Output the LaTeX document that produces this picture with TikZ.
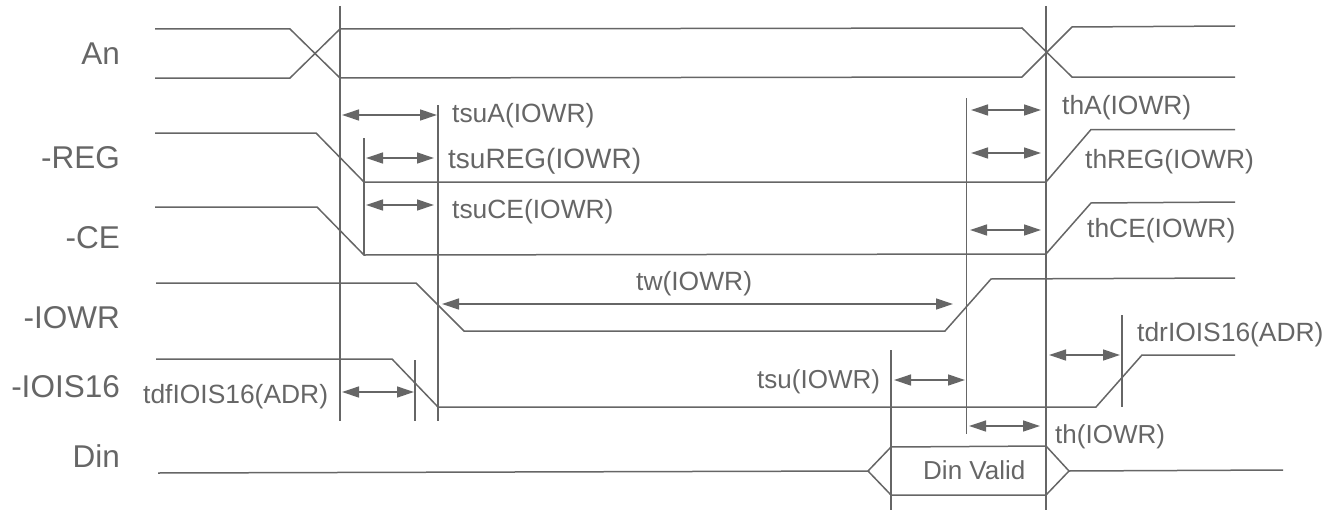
\documentclass[tikz,border=0pt]{standalone}
\usepackage{fontspec}
\setmainfont{Liberation Sans}
\usetikzlibrary{arrows.meta}
\definecolor{ink}{gray}{0.40}
\definecolor{txt}{gray}{0.40}
\tikzset{
  wave/.style={draw=ink,line width=1.5pt,line join=miter},
  guide/.style={draw=ink,line width=1.3pt},
  span/.style={draw=ink,line width=1.3pt,{Triangle[length=17pt,width=11pt,color=ink]}-{Triangle[length=17pt,width=11pt,color=ink]}},
  lbl/.style={text=txt,inner sep=0pt,anchor=base west,font=\fontsize{26.4}{30}\selectfont},
  lblbig/.style={lbl,font=\fontsize{28}{30}\selectfont},
  lblsmall/.style={lbl,font=\fontsize{26}{30}\selectfont},
  sig/.style={text=txt,inner sep=0pt,anchor=base east,font=\fontsize{31.5}{34}\selectfont}
}
\begin{document}
\begin{tikzpicture}[x=1pt,y=-1pt]
\useasboundingbox (0,0) rectangle (1338,511);
% guides
\draw[guide] (340,6) -- (340,421);
\draw[guide] (438,105) -- (438,421);
\draw[guide] (364,138) -- (364,255);
\draw[guide] (415,360) -- (415,421);
\draw[guide] (1046,6) -- (1046,510);
\draw[guide] (966.5,98) -- (966.5,434);
\draw[guide] (891,350) -- (891,510);
\draw[guide] (1122,315) -- (1122,407);
% waves
\draw[wave] (155,29) -- (290,29) -- (340,78) -- (1022,77) -- (1072,27) -- (1235,26);
\draw[wave] (155,78) -- (290,78) -- (340,29) -- (1022,28) -- (1072,77) -- (1235,77);
\draw[wave] (155,133) -- (316,133) -- (364,182) -- (1046,182) -- (1091,129.5) -- (1235,129.5);
\draw[wave] (155,207) -- (317,207) -- (364,255) -- (1046,254) -- (1091,203) -- (1235,202);
\draw[wave] (156,283) -- (416,283) -- (464,331) -- (945,331) -- (991,279) -- (1235,278);
\draw[wave] (156,359) -- (392,359) -- (438,407) -- (1096,407) -- (1142,355) -- (1235,355);
\draw[wave] (158,473) -- (868,471) -- (891,447) -- (1046,446) -- (1069,471) -- (1046,495) -- (891,495) -- (868,471);
\draw[wave] (1069,471) -- (1283,470);
% spans
\draw[span] (342,115) -- (437,115);
\draw[span] (366,158) -- (434,158);
\draw[span] (366,205) -- (434,205);
\draw[span] (971,110) -- (1041,110);
\draw[span] (971,153) -- (1041,153);
\draw[span] (970,230) -- (1041,230);
\draw[span] (442,304) -- (953,304);
\draw[span] (894,380) -- (965,380);
\draw[span] (969,426) -- (1040,426);
\draw[span] (1049,355) -- (1120,355);
\draw[span] (342,392) -- (414,392);
% signal labels
\node[sig] (an) at (120,64) {An};
\node[sig] (reg) at (120,168) {-REG};
\node[sig] (ce) at (120,248) {-CE};
\node[sig] (iowr) at (120,328) {-IOWR};
\node[sig] (iois) at (120,397) {-IOIS16};
\node[sig] (din) at (120,467) {Din};
% timing labels
\node[lbl] (tsua) at (452,122) {tsuA(IOWR)};
\node[lblbig] (tsureg) at (448,168) {tsuREG(IOWR)};
\node[lbl] (tsuce) at (452,218) {tsuCE(IOWR)};
\node[lbl] (tha) at (1062,114) {thA(IOWR)};
\node[lbl] (threg) at (1085,168) {thREG(IOWR)};
\node[lbl] (thce) at (1087,237) {thCE(IOWR)};
\node[lbl] (tw) at (636,290) {tw(IOWR)};
\node[lblsmall] (tsu) at (757,388) {tsu(IOWR)};
\node[lbl] (tdr) at (1137,341) {tdrIOIS16(ADR)};
\node[lblsmall] (th) at (1055,443) {th(IOWR)};
\node[lbl] (tdf) at (143,403) {tdfIOIS16(ADR)};
\node[lblsmall] (dv) at (923,479) {Din Valid};
\end{tikzpicture}
\end{document}
